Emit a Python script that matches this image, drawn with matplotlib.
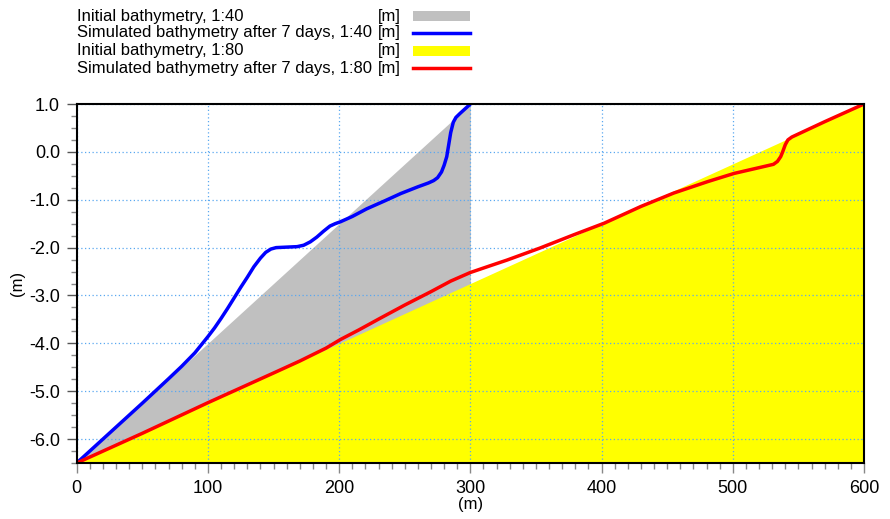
import matplotlib
matplotlib.use("Agg")
import matplotlib.pyplot as plt
from matplotlib.lines import Line2D
from matplotlib.patches import Rectangle
from matplotlib.ticker import MultipleLocator, FormatStrFormatter

plt.rcParams['font.family'] = ['Liberation Sans', 'DejaVu Sans']

# Initial profiles
init40_x = [0, 300]
init40_y = [-6.5, 1.0]
init80_x = [0, 600]
init80_y = [-6.5, 1.0]

# Simulated after 7 days, 1:40
sim40_x = [0, 30, 50, 70, 80, 90, 100, 105, 110, 115, 120, 125, 130, 135, 140, 144, 148,
           152, 160, 168, 173, 178, 183, 188, 193, 197, 201, 210, 221, 235, 247, 260,
           268, 272, 275, 278, 280, 282, 283.5, 285, 287, 289, 292, 296, 300]
sim40_y = [-6.5, -5.75, -5.25, -4.74, -4.48, -4.2, -3.86, -3.68, -3.48, -3.27, -3.05,
           -2.83, -2.62, -2.4, -2.22, -2.1, -2.03, -2.0, -1.99, -1.98, -1.95, -1.88,
           -1.78, -1.66, -1.55, -1.5, -1.46, -1.35, -1.19, -1.02, -0.87, -0.73, -0.65,
           -0.6, -0.54, -0.42, -0.28, -0.1, 0.15, 0.4, 0.62, 0.72, 0.80, 0.9, 1.0]

# Simulated after 7 days, 1:80
sim80_x = [0, 50, 100, 150, 170, 190, 201, 215, 231, 250, 270, 285, 300, 315, 328, 353,
           379, 402, 430, 455, 481, 501, 520, 531, 534, 536.5, 538, 540, 542, 545, 570,
           600]
sim80_y = [-6.5, -5.88, -5.24, -4.62, -4.37, -4.1, -3.92, -3.72, -3.48, -3.2, -2.92,
           -2.7, -2.52, -2.38, -2.26, -2.01, -1.73, -1.49, -1.14, -0.86, -0.62, -0.45,
           -0.33, -0.26, -0.2, -0.1, 0.0, 0.15, 0.25, 0.31, 0.63, 1.0]

legend_labels = ["Initial bathymetry, 1:40",
                 "Simulated bathymetry after 7 days, 1:40",
                 "Initial bathymetry, 1:80",
                 "Simulated bathymetry after 7 days, 1:80"]

fig = plt.figure(figsize=(8.9, 5.19), dpi=100)
ax = fig.add_axes([0.0862, 0.1079, 0.9708 - 0.0862, 0.7996 - 0.1079])

ax.fill_between(init40_x, init40_y, -6.5, color='#c0c0c0', linewidth=0, zorder=1)
ax.fill_between(init80_x, init80_y, -6.5, color='#ffff00', linewidth=0, zorder=1.1)
ax.plot(sim40_x, sim40_y, color='#0000ff', lw=2.5, zorder=3,
        solid_capstyle='round', solid_joinstyle='round')
ax.plot(sim80_x, sim80_y, color='#ff0000', lw=2.5, zorder=3.1,
        solid_capstyle='round', solid_joinstyle='round')

ax.set_xlim(0, 600)
ax.set_ylim(-6.5, 1.0)
ax.xaxis.set_major_locator(MultipleLocator(100))
ax.xaxis.set_minor_locator(MultipleLocator(10))
ax.yaxis.set_major_locator(MultipleLocator(1.0))
ax.yaxis.set_minor_locator(MultipleLocator(0.25))
ax.yaxis.set_major_formatter(FormatStrFormatter('%.1f'))

ax.set_axisbelow(False)
ax.grid(True, which='major', color='#5aa8f0', linestyle=(0, (1, 2)), linewidth=0.9)

for s in ax.spines.values():
    s.set_linewidth(1.5)
    s.set_color('black')
    s.set_zorder(4)

ax.tick_params(axis='y', which='major', length=7, width=1, color='#555555',
               labelsize=13, pad=5)
ax.tick_params(axis='y', which='minor', length=4.5, width=1, color='#888888')
ax.tick_params(axis='x', which='major', length=7, width=1, color='#888888',
               labelsize=13, pad=5)
ax.tick_params(axis='x', which='minor', length=4, width=1, color='#888888')

ax.set_xlabel('(m)', fontsize=12, labelpad=0)
ax.set_ylabel('(m)', fontsize=12, labelpad=3)

# legend drawn manually at top
W, H = 890.0, 519.0
rows = [16, 33, 51, 68]
for i, (lab, yy) in enumerate(zip(legend_labels, rows)):
    fig.text(77 / W, 1 - yy / H, lab, fontsize=12, va='center', ha='left')
    fig.text(401 / W, 1 - yy / H, '[m]', fontsize=12, va='center', ha='right')
fig.add_artist(Rectangle((413 / W, 1 - (rows[0] + 5) / H), 57 / W, 10 / H,
                         transform=fig.transFigure, color='#c0c0c0', lw=0))
fig.add_artist(Line2D([413 / W, 470 / W], [1 - rows[1] / H] * 2,
                      transform=fig.transFigure, color='#0000ff', lw=2.5))
fig.add_artist(Rectangle((413 / W, 1 - (rows[2] + 5) / H), 57 / W, 10 / H,
                         transform=fig.transFigure, color='#ffff00', lw=0))
fig.add_artist(Line2D([413 / W, 470 / W], [1 - rows[3] / H] * 2,
                      transform=fig.transFigure, color='#ff0000', lw=2.5))

fig.savefig('out.png', dpi=100)
